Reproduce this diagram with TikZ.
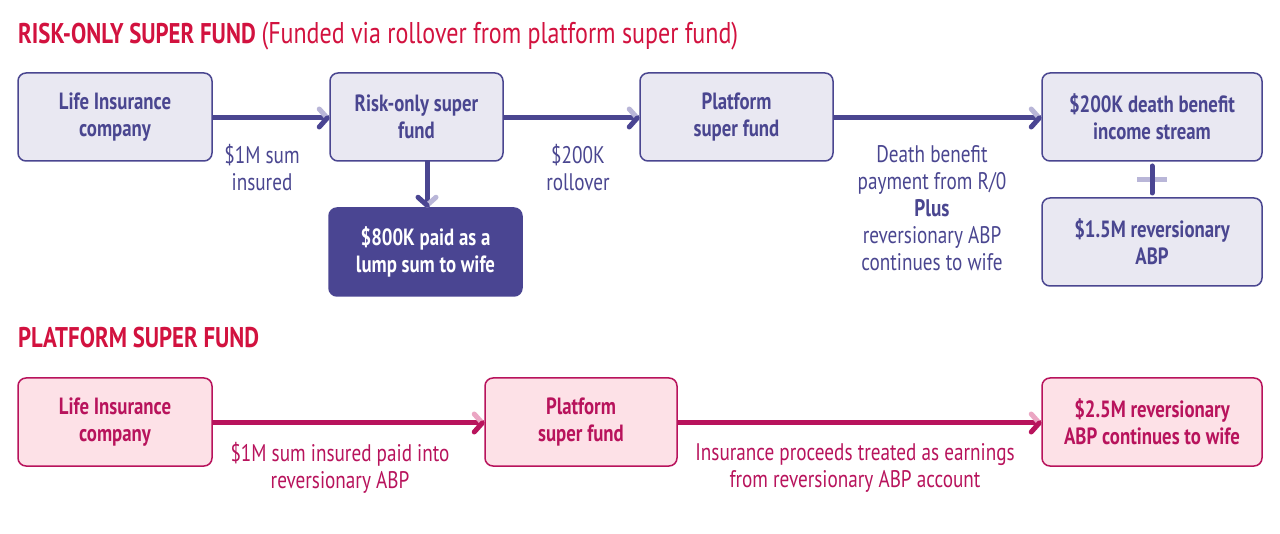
\documentclass[tikz,border=0pt]{standalone}
\usepackage{fontspec}
\setmainfont{PT Sans}[FakeStretch=0.80]
\usetikzlibrary{positioning,calc}
\definecolor{pur}{HTML}{4A4690}
\definecolor{purfill}{HTML}{E9E8F2}
\definecolor{purdark}{HTML}{4A4592}
\definecolor{purlight}{HTML}{B9B6D8}
\definecolor{pnk}{HTML}{B8135C}
\definecolor{pnkfill}{HTML}{FDE1E7}
\definecolor{pnklight}{HTML}{EBA6C3}
\definecolor{ttl}{HTML}{D2123F}
\tikzset{
  box/.style={draw=pur, fill=purfill, line width=1.5pt, rounded corners=8pt,
    minimum height=88pt, align=center, text=pur, inner sep=2pt,
    font=\fontsize{23.5}{27}\selectfont\bfseries,
    execute at begin node={\rule{0pt}{24pt}}},
  darkbox/.style={box, fill=purdark, draw=purdark, text=white},
  pbox/.style={box, draw=pnk, fill=pnkfill, text=pnk},
  lbl/.style={align=center, text=pur, font=\fontsize{24}{27}\selectfont, inner sep=0pt},
  plbl/.style={lbl, text=pnk},
  conn/.style={draw=pur, line width=5pt},
  pconn/.style={conn, draw=pnk},
  ttlfont/.style={text=ttl, font=\fontsize{28.5}{34}\selectfont, inner sep=0pt, anchor=base west},
}
\begin{document}
\begin{tikzpicture}[x=1pt,y=-1pt]
\useasboundingbox[fill=white] (0,0) rectangle (1280,534);

% titles
\node[ttlfont] (t1) at (18,44) {\bfseries RISK-ONLY SUPER FUND \mdseries\fontsize{30}{34}\selectfont(Funded via rollover from platform super fund)};
\node[ttlfont] (t2) at (18,348) {\bfseries PLATFORM SUPER FUND};

% row 1
\node[box, minimum width=194pt] (lic) at (115,117) {Life Insurance\\company};
\node[box, minimum width=173pt] (rof) at (416.5,117) {Risk-only super\\fund};
\node[box, minimum width=193pt] (psf) at (736.5,117) {Platform\\super fund};
\node[box, minimum width=220pt] (dbs) at (1152,117) {\$200K death benefit\\income stream};
\node[darkbox, minimum width=193pt] (lump) at (425.5,252) {\$800K paid as a\\lump sum to wife};
\node[box, minimum width=220pt] (rabp) at (1152,242) {\$1.5M reversionary\\ABP};

\draw[conn] (lic.east |- 0,118) -- (rof.west |- 0,118);
\draw[conn] (rof.east |- 0,118) -- (psf.west |- 0,118);
\draw[conn] (psf.east |- 0,118) -- (dbs.west |- 0,118);
\draw[conn] (427,161) -- (lump.north -| 427,0);

\coordinate (a1) at (rof.west |- 0,118);
\coordinate (a2) at (psf.west |- 0,118);
\coordinate (a3) at (dbs.west |- 0,118);
\foreach \c in {a1,a2,a3}{
  \draw[purlight, line width=5pt, line cap=round] ($(\c)+(-10,-9)$) -- ($(\c)+(-2,0)$);
  \draw[purdark, line width=5pt, line cap=round] ($(\c)+(-10,9)$) -- ($(\c)+(-2,0)$);
}
\coordinate (a4) at (lump.north -| 427,0);
\draw[purlight, line width=5pt, line cap=round] ($(a4)+(9,-10)$) -- ($(a4)+(0,-2)$);
\draw[purdark, line width=5pt, line cap=round] ($(a4)+(-9,-10)$) -- ($(a4)+(0,-2)$);

% plus
\coordinate (pc) at (1152,180);
\draw[purlight, line width=5pt] ($(pc)+(-15,0)$) -- ($(pc)+(15,0)$);
\draw[purdark, line width=5pt, line cap=round] ($(pc)+(0,-14)$) -- ($(pc)+(0,13)$);

\node[lbl] (l1) at (262,168) {\$1M sum\\insured};
\node[lbl] (l2) at (578,168) {\$200K\\rollover};
\node[lbl] (l3) at (932,208) {Death benefit\\payment from R/0\\\textbf{Plus}\\reversionary ABP\\continues to wife};

% row 2
\node[pbox, minimum width=194pt] (plic) at (115,422) {Life Insurance\\company};
\node[pbox, minimum width=192pt] (ppsf) at (581,422) {Platform\\super fund};
\node[pbox, minimum width=220pt] (pabp) at (1152,422) {\$2.5M reversionary\\ABP continues to wife};

\draw[pconn] (plic.east |- 0,423) -- (ppsf.west |- 0,423);
\draw[pconn] (ppsf.east |- 0,423) -- (pabp.west |- 0,423);
\coordinate (b1) at (ppsf.west |- 0,423);
\coordinate (b2) at (pabp.west |- 0,423);
\foreach \c in {b1,b2}{
  \draw[pnklight, line width=5pt, line cap=round] ($(\c)+(-10,-9)$) -- ($(\c)+(-2,0)$);
  \draw[pnk, line width=5pt, line cap=round] ($(\c)+(-10,9)$) -- ($(\c)+(-2,0)$);
}
\node[plbl] (pl1) at (340,468) {\$1M sum insured paid into\\reversionary ABP};
\node[plbl] (pl2) at (855,468) {Insurance proceeds treated as earnings\\from reversionary ABP account};
\end{tikzpicture}
\end{document}
